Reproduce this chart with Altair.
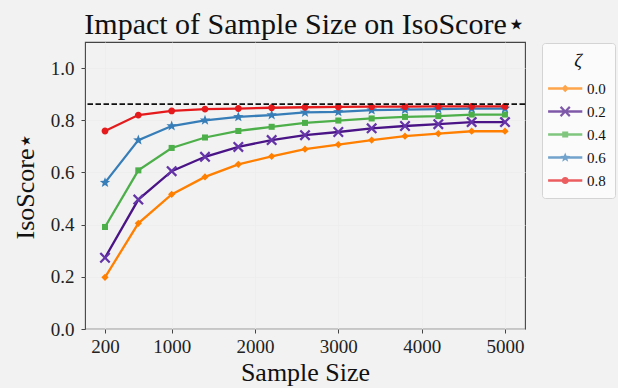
import math
import altair as alt
import pandas as pd

# ---------------- data ----------------
sample_sizes = [200, 600, 1000, 1400, 1800, 2200, 2600, 3000, 3400, 3800, 4200, 4600, 5000]
zeta_labels = ["0.0", "0.2", "0.4", "0.6", "0.8"]
score_00 = [0.198, 0.405, 0.516, 0.583, 0.631, 0.662, 0.689, 0.707, 0.724, 0.739, 0.749, 0.758, 0.758]
score_02 = [0.273, 0.496, 0.605, 0.660, 0.698, 0.724, 0.743, 0.755, 0.769, 0.778, 0.785, 0.793, 0.793]
score_04 = [0.391, 0.608, 0.694, 0.734, 0.759, 0.775, 0.790, 0.799, 0.807, 0.813, 0.816, 0.822, 0.822]
score_06 = [0.561, 0.724, 0.778, 0.800, 0.813, 0.820, 0.830, 0.832, 0.839, 0.841, 0.843, 0.845, 0.845]
score_08 = [0.759, 0.820, 0.836, 0.843, 0.845, 0.848, 0.850, 0.851, 0.852, 0.852, 0.853, 0.853, 0.853]
reference_level = [0.862]
x_ticks = [200, 1000, 2000, 3000, 4000, 5000]
y_ticks = [0.0, 0.2, 0.4, 0.6, 0.8, 1.0]

# ---------------- styles ----------------
line_colors = ["#ff7f00", "#4a1486", "#4daf4a", "#377eb8", "#e41a1c"]
marker_colors = ["#ff7f00", "#6434a8", "#4daf4a", "#377eb8", "#e41a1c"]
SERIF = "Liberation Serif"


def fmt(pts):
    return "M" + " L".join(f"{x:.3f},{y:.3f}" for x, y in pts) + " Z"


def star(outer, inner):
    pts = []
    for k in range(10):
        a = -math.pi / 2 + k * math.pi / 5
        r = outer if k % 2 == 0 else inner
        pts.append((r * math.cos(a), r * math.sin(a)))
    return fmt(pts)


def xcross(half, w):
    base = [(-w, -1), (w, -1), (w, -w), (1, -w), (1, w), (w, w),
            (w, 1), (-w, 1), (-w, w), (-1, w), (-1, -w), (-w, -w)]
    s = half * math.sqrt(2) / (1 + w)
    c = math.sqrt(0.5)
    return fmt([((x - y) * c * s, (x + y) * c * s) for x, y in base])


def diamond(r):
    return fmt([(0, -r), (r, 0), (0, r), (-r, 0)])


def square(h):
    return fmt([(-h, -h), (h, -h), (h, h), (-h, h)])


def circle(r):
    return f"M{r},0 A{r},{r},0,1,1,{-r},0 A{r},{r},0,1,1,{r},0 Z"


# plot markers (size 121 -> unit = 5.5 px)
plot_shapes = [diamond(0.66), xcross(1.0, 0.17), square(0.55), star(1.0, 0.42), circle(0.62)]

# legend symbols: line + marker (size 144 -> unit = 6 px)
L, T = 2.85, 0.2
seg = fmt([(-L, -T), (L, -T), (L, T), (-L, T)])
legend_shapes = [seg + " " + diamond(0.62), seg + " " + xcross(0.9, 0.17),
                 seg + " " + square(0.5), seg + " " + star(0.85, 0.36),
                 seg + " " + circle(0.6)]

rows = []
for lab, vals in zip(zeta_labels, [score_00, score_02, score_04, score_06, score_08]):
    for n, v in zip(sample_sizes, vals):
        rows.append({"n": n, "score": v, "zeta": lab})
df = pd.DataFrame(rows)
legend_df = pd.DataFrame({"zeta_leg": zeta_labels})
ref_df = pd.DataFrame({"ref": reference_level})

x_enc = alt.X(
    "n:Q",
    scale=alt.Scale(domain=[-40, 5240], nice=False, zero=False),
    axis=alt.Axis(values=x_ticks, title="Sample Size", format="d", labelPadding=4, titlePadding=3),
)
y_enc = alt.Y(
    "score:Q",
    scale=alt.Scale(domain=[0, 1.1], nice=False, zero=False),
    axis=alt.Axis(values=y_ticks, title="IsoScore⋆", format=".1f", labelPadding=7, titlePadding=12),
)

lines = alt.Chart(df).mark_line(strokeWidth=2.3).encode(
    x=x_enc,
    y=y_enc,
    color=alt.Color("zeta:N", scale=alt.Scale(domain=zeta_labels, range=line_colors), legend=None),
    order=alt.Order("n:Q"),
)

points = alt.Chart(df).mark_point(filled=True, opacity=1, size=121, strokeWidth=0).encode(
    x=x_enc,
    y=y_enc,
    color=alt.Color("zeta:N", scale=alt.Scale(domain=zeta_labels, range=marker_colors), legend=None),
    shape=alt.Shape("zeta:N", scale=alt.Scale(domain=zeta_labels, range=plot_shapes), legend=None),
)

leg = alt.Legend(
    title="ζ",
    orient="none",
    legendX=457,
    legendY=1,
    padding=9,
    fillColor="#fbfbfb",
    strokeColor="#d4d4d4",
    cornerRadius=3,
    titleFont=SERIF,
    titleFontSize=19,
    titleFontStyle="italic",
    titleFontWeight="normal",
    titleColor="#111",
    titleAnchor="middle",
    titlePadding=10,
    labelFont=SERIF,
    labelFontSize=15,
    labelColor="#111",
    symbolSize=144,
    symbolStrokeWidth=0,
    symbolOffset=6.7,
    labelOffset=14.4,
    rowPadding=7,
)

legend_layer = (
    alt.Chart(legend_df)
    .transform_filter("false")
    .mark_point(filled=True, size=144)
    .encode(
        color=alt.Color("zeta_leg:N", scale=alt.Scale(domain=zeta_labels, range=line_colors), legend=leg),
        shape=alt.Shape("zeta_leg:N", scale=alt.Scale(domain=zeta_labels, range=legend_shapes), legend=leg),
    )
)

ref_rule = alt.Chart(ref_df).mark_rule(color="#111", strokeWidth=1.6, strokeDash=[5.5, 2.5]).encode(
    y=alt.Y("ref:Q")
)

chart = (
    alt.layer(lines, points, ref_rule, legend_layer)
    .resolve_scale(color="independent", shape="independent")
    .properties(
        width=440,
        height=287,
        autosize=alt.AutoSizeParams(type="none"),
        padding={"left": 85, "top": 42, "right": 93, "bottom": 59},
        background="#f2f2f2",
        title=alt.TitleParams(
            "Impact of Sample Size on IsoScore⋆",
            font=SERIF,
            fontSize=30,
            fontWeight="normal",
            color="#111",
            anchor="middle",
            offset=2,
        ),
    )
    .configure_view(fill="white", stroke="#444", strokeWidth=1.1)
    .configure_axis(
        domain=False,
        grid=True,
        gridColor="#ececec",
        gridWidth=0.8,
        tickColor="#444",
        tickSize=4,
        tickWidth=1,
        labelFont=SERIF,
        labelFontSize=19,
        labelColor="#222",
        titleFont=SERIF,
        titleFontSize=26,
        titleFontWeight="normal",
        titleColor="#111",
    )
)

chart.save("out.html", embed_options={"renderer": "svg", "actions": False})
